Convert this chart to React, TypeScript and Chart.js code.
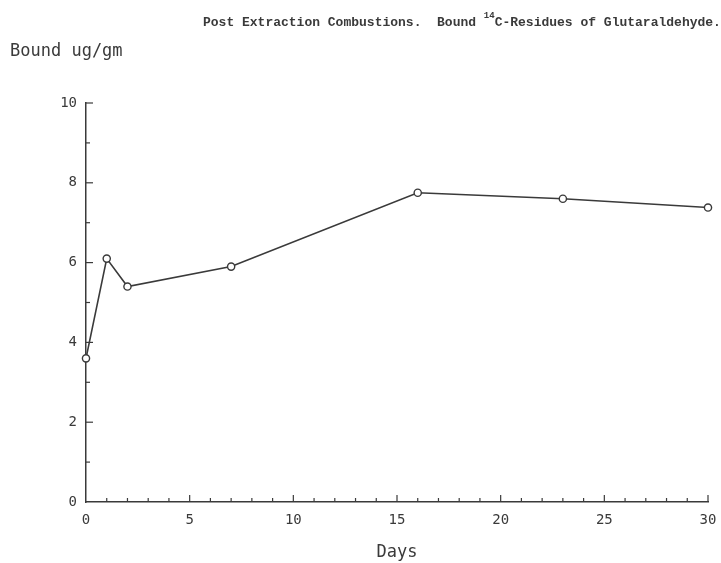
import React, { useEffect, useRef } from "react";
import { Chart, registerables } from "chart.js";

Chart.register(...registerables);

const days = [0, 1, 2, 7, 16, 23, 30];
const bound = [3.6, 6.1, 5.4, 5.9, 7.75, 7.6, 7.38];
const xTickLabels = ["0", "5", "10", "15", "20", "25", "30"];
const yTickLabels = ["0", "2", "4", "6", "8", "10"];
const titleParts = ["Post Extraction Combustions.  Bound ", "14", "C-Residues of Glutaraldehyde."];
const yAxisTitle = "Bound ug/gm";
const xAxisTitle = "Days";

const INK = "#3a3a3a";
const MONO = "'DejaVu Sans Mono', monospace";

const decorPlugin = {
  id: "decor",
  afterDraw(chart: any) {
    const ctx = chart.ctx;
    const xs = chart.scales.x;
    const ys = chart.scales.y;
    const area = chart.chartArea;
    ctx.save();
    ctx.strokeStyle = INK;
    ctx.lineWidth = 1.2;
    for (let d = 1; d <= 30; d++) {
      const px = xs.getPixelForValue(d);
      const len = d % 5 === 0 ? 7 : 4;
      ctx.beginPath();
      ctx.moveTo(px, area.bottom);
      ctx.lineTo(px, area.bottom - len);
      ctx.stroke();
    }
    for (let v = 1; v <= 10; v++) {
      const py = ys.getPixelForValue(v);
      const len = v % 2 === 0 ? 7 : 4;
      ctx.beginPath();
      ctx.moveTo(area.left, py);
      ctx.lineTo(area.left + len, py);
      ctx.stroke();
    }
    ctx.fillStyle = INK;
    ctx.font = `17px ${MONO}`;
    ctx.textAlign = "left";
    ctx.textBaseline = "alphabetic";
    ctx.fillText(yAxisTitle, 10, 56);
    ctx.textAlign = "center";
    ctx.fillText(xAxisTitle, (area.left + area.right) / 2, 557);
    ctx.textAlign = "left";
    ctx.font = `bold 13px 'Liberation Mono', monospace`;
    let x = 203;
    const base = 26;
    ctx.fillText(titleParts[0], x, base);
    x += ctx.measureText(titleParts[0]).width;
    ctx.font = `bold 9px 'Liberation Mono', monospace`;
    ctx.fillText(titleParts[1], x, base - 8);
    x += ctx.measureText(titleParts[1]).width;
    ctx.font = `bold 13px 'Liberation Mono', monospace`;
    ctx.fillText(titleParts[2], x, base);
    ctx.restore();
  },
};

export default function App() {
  const ref = useRef<HTMLCanvasElement>(null);
  useEffect(() => {
    const canvas = ref.current!;
    const chart = new Chart(canvas, {
      type: "line",
      data: {
        datasets: [
          {
            data: days.map((d, i) => ({ x: d, y: bound[i] })),
            borderColor: INK,
            borderWidth: 1.6,
            pointRadius: 3.6,
            pointBorderWidth: 1.4,
            pointBackgroundColor: "#ffffff",
            pointBorderColor: INK,
            tension: 0,
            clip: false,
          },
        ],
      },
      options: {
        animation: false,
        responsive: false,
        maintainAspectRatio: false,
        layout: { padding: { top: 103, right: 13, left: 0, bottom: 0 } },
        plugins: { legend: { display: false }, tooltip: { enabled: false }, title: { display: false } },
        scales: {
          x: {
            type: "linear",
            min: 0,
            max: 30,
            afterFit: (s: any) => {
              s.height = 61;
              s.paddingRight = 0;
              s.paddingLeft = 0;
            },
            afterBuildTicks: (s: any) => {
              s.ticks = xTickLabels.map((t) => ({ value: Number(t) }));
            },
            grid: { display: false, drawTicks: false },
            border: { display: true, color: INK, width: 1.5 },
            ticks: {
              padding: 10,
              color: INK,
              font: { family: MONO, size: 14 },
              callback: (v: any) => xTickLabels.find((t) => Number(t) === v) ?? "",
            },
          },
          y: {
            type: "linear",
            min: 0,
            max: 10,
            afterFit: (s: any) => {
              s.width = 86;
            },
            afterBuildTicks: (s: any) => {
              s.ticks = yTickLabels.map((t) => ({ value: Number(t) }));
            },
            grid: { display: false, drawTicks: false },
            border: { display: true, color: INK, width: 1.5 },
            ticks: {
              padding: 9,
              color: INK,
              font: { family: MONO, size: 14 },
              callback: (v: any) => yTickLabels.find((t) => Number(t) === v) ?? "",
            },
          },
        },
      },
      plugins: [decorPlugin],
    });
    return () => chart.destroy();
  }, []);
  return (
    <div style={{ position: "fixed", left: 0, top: 0, width: 721, height: 563, background: "#fff" }}>
      <canvas ref={ref} width={721} height={563} style={{ width: 721, height: 563 }} />
    </div>
  );
}
